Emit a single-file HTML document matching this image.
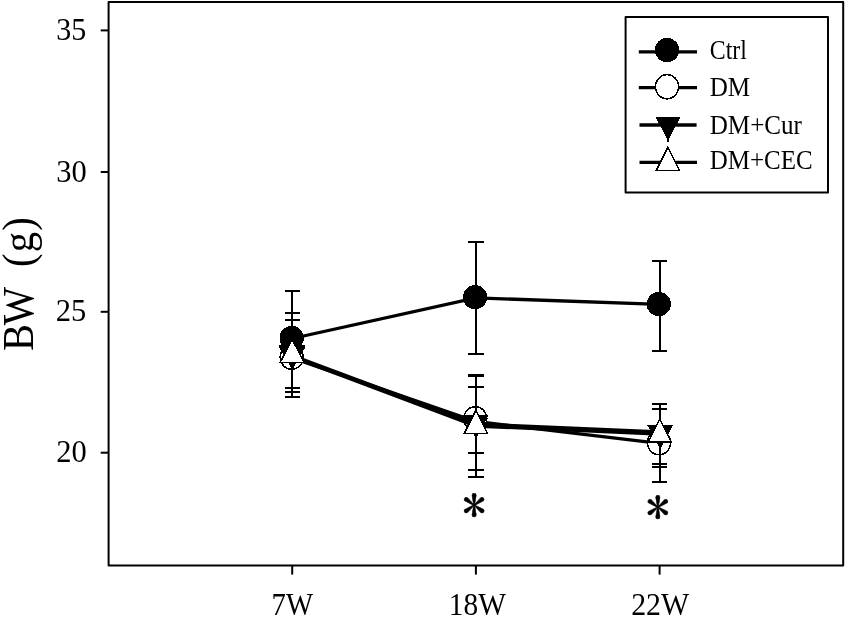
<!DOCTYPE html>
<html>
<head>
<meta charset="utf-8">
<title>BW (g)</title>
<style>
html,body{margin:0;padding:0;background:#fff;}
body{width:845px;height:617px;overflow:hidden;}
svg{display:block;}
text{font-family:"Liberation Serif","Times New Roman",serif;fill:#000;}
text.ast{font-family:"IPAGothic","Liberation Serif",serif;}
</style>
</head>
<body>
<svg width="845" height="617" viewBox="0 0 845 617">
<rect x="0" y="0" width="845" height="617" fill="#fff"/>

<!-- plot frame -->
<rect x="108.6" y="1.95" width="734.6" height="563.5" fill="none" stroke="#000" stroke-width="2" stroke-linejoin="round"/>

<!-- y ticks -->
<g stroke="#000" stroke-width="2">
<line x1="100.7" y1="30.4" x2="108.6" y2="30.4"/>
<line x1="100.7" y1="172" x2="108.6" y2="172"/>
<line x1="100.7" y1="311.8" x2="108.6" y2="311.8"/>
<line x1="100.7" y1="452.7" x2="108.6" y2="452.7"/>
<!-- x ticks -->
<line x1="292.2" y1="565.4" x2="292.2" y2="574.6"/>
<line x1="475.9" y1="565.4" x2="475.9" y2="574.6"/>
<line x1="659.6" y1="565.4" x2="659.6" y2="574.6"/>
</g>

<!-- y tick labels -->
<g font-size="30.5" text-anchor="end">
<text transform="translate(86.2,40.1) scale(0.985,1)">35</text>
<text transform="translate(86.7,181.5) scale(1,1)">30</text>
<text transform="translate(86.2,321) scale(1,1)">25</text>
<text transform="translate(86.7,462.1) scale(1,1)">20</text>
</g>

<!-- x tick labels -->
<g font-size="30.6" text-anchor="middle">
<text transform="translate(292.3,615.3) scale(0.94,1)">7W</text>
<text transform="translate(477.4,615.3) scale(0.96,1)">18W</text>
<text transform="translate(660.2,615.3) scale(0.975,1)">22W</text>
</g>

<!-- y axis title -->
<text transform="translate(33,351) rotate(-90) scale(0.915,1)" font-size="44.3"><tspan letter-spacing="-1.3">BW</tspan><tspan dx="10.5" letter-spacing="1.4"> (g)</tspan></text>

<!-- series -->
<!-- Ctrl -->
<polyline points="292.2,338.5 475.9,297.9 659.6,304.3" fill="none" stroke="#000" stroke-width="3.3"/>
<path d="M292.25 291.4V388.4M284.50 291.4H300.00M284.50 388.4H300.00 M475.95 241.9V354.1M468.20 241.9H483.70M468.20 354.1H483.70 M659.6 260.6V350.9M651.85 260.6H667.35M651.85 350.9H667.35" fill="none" stroke="#000" stroke-width="2" shape-rendering="crispEdges"/>
<g shape-rendering="crispEdges">
<circle cx="291.7" cy="338" r="12.15" fill="#000"/>
<circle cx="475.05" cy="297.15" r="12.1" fill="#000"/>
<circle cx="658.8" cy="304.05" r="12.1" fill="#000"/>
</g>
<!-- DM -->
<polyline points="292.2,358 475.9,421.5 659.6,443.3" fill="none" stroke="#000" stroke-width="3.3"/>
<path d="M292.25 320V396.9M284.50 320H300.00M284.50 396.9H300.00 M475.95 386.6V453M468.20 386.6H483.70M468.20 453H483.70 M659.6 403.6V482M651.85 403.6H667.35M651.85 482H667.35" fill="none" stroke="#000" stroke-width="2" shape-rendering="crispEdges"/>
<g shape-rendering="crispEdges">
<ellipse cx="291.7" cy="357.2" rx="11.5" ry="12.1" fill="#fff" stroke="#000" stroke-width="1.5"/>
<ellipse cx="475.3" cy="418.8" rx="11.5" ry="12.1" fill="#fff" stroke="#000" stroke-width="1.5"/>
<ellipse cx="659.05" cy="442.7" rx="11.5" ry="12.1" fill="#fff" stroke="#000" stroke-width="1.5"/>
</g>
<!-- DM+Cur -->
<polyline points="292.2,355.5 475.9,424 659.6,432" fill="none" stroke="#000" stroke-width="3.3"/>
<path d="M292.25 320V391.7M284.50 320H300.00M284.50 391.7H300.00 M475.95 374.7V470M468.20 374.7H483.70M468.20 470H483.70 M659.6 408.5V463.5M651.85 408.5H667.35M651.85 463.5H667.35" fill="none" stroke="#000" stroke-width="2" shape-rendering="crispEdges"/>
<g shape-rendering="crispEdges">
<path d="M279.10 344.50H305.30V347.20L292.90 368.60L292.70 370.80H291.70L291.50 368.60L279.10 347.20Z" fill="#000"/>
<path d="M463.20 414.80H488.80L476.70 437.40L476.50 440.40H475.50L475.30 437.40Z" fill="#000"/>
<path d="M647.40 425.40H673.00L660.90 448.00L660.70 451.00H659.70L659.50 448.00Z" fill="#000"/>
</g>
<!-- DM+CEC -->
<polyline points="292.2,357 475.9,426 659.6,434" fill="none" stroke="#000" stroke-width="3.3"/>
<path d="M292.25 313.3V396.9M284.50 313.3H300.00M284.50 396.9H300.00 M475.95 376.3V476.9M468.20 376.3H483.70M468.20 476.9H483.70 M659.6 403.6V466.9M651.85 403.6H667.35M651.85 466.9H667.35" fill="none" stroke="#000" stroke-width="2" shape-rendering="crispEdges"/>
<g shape-rendering="crispEdges">
<path d="M292.10 339.18L303.99 362.35H280.21Z" fill="#fff" stroke="#000" stroke-width="1.5"/>
<path d="M475.80 410.38L487.39 433.55H464.21Z" fill="#fff" stroke="#000" stroke-width="1.5"/>
<path d="M659.65 418.98L671.24 442.15H648.06Z" fill="#fff" stroke="#000" stroke-width="1.5"/>
</g>

<!-- asterisks -->
<g font-size="47.5" text-anchor="middle" stroke="#000" stroke-width="0.5" stroke-linejoin="round">
<text class="ast" x="474.1" y="523.2">*</text>
<text class="ast" x="657.8" y="524.9">*</text>
</g>

<!-- legend -->
<rect x="625.6" y="16.95" width="202.4" height="175.45" fill="#fff" stroke="#000" stroke-width="2" stroke-linejoin="round"/>
<g stroke="#000" stroke-width="3.3">
<line x1="638.8" y1="51.9" x2="697" y2="51.9"/>
<line x1="638.8" y1="87.6" x2="697" y2="87.6"/>
<line x1="639.5" y1="125" x2="696.6" y2="125"/>
<line x1="639.5" y1="162.4" x2="697" y2="162.4"/>
</g>
<g shape-rendering="crispEdges">
<circle cx="667.05" cy="50.05" r="12.15" fill="#000"/>
<ellipse cx="667.05" cy="86.75" rx="11.5" ry="12.1" fill="#fff" stroke="#000" stroke-width="1.5"/>
<path d="M655.25 116.50H680.85L668.75 139.10L668.55 142.10H667.55L667.35 139.10Z" fill="#000"/>
<path d="M667.85 147.38L679.44 170.55H656.26Z" fill="#fff" stroke="#000" stroke-width="1.5"/>
</g>
<g font-size="27">
<text transform="translate(709.7,58.6) scale(0.885,1)">Ctrl</text>
<text transform="translate(709.7,96.2) scale(0.93,1)">DM</text>
<text transform="translate(709.7,133.8) scale(0.93,1)">DM+Cur</text>
<text transform="translate(709.7,169.2) scale(0.925,1)">DM+CEC</text>
</g>
</svg>
</body>
</html>
